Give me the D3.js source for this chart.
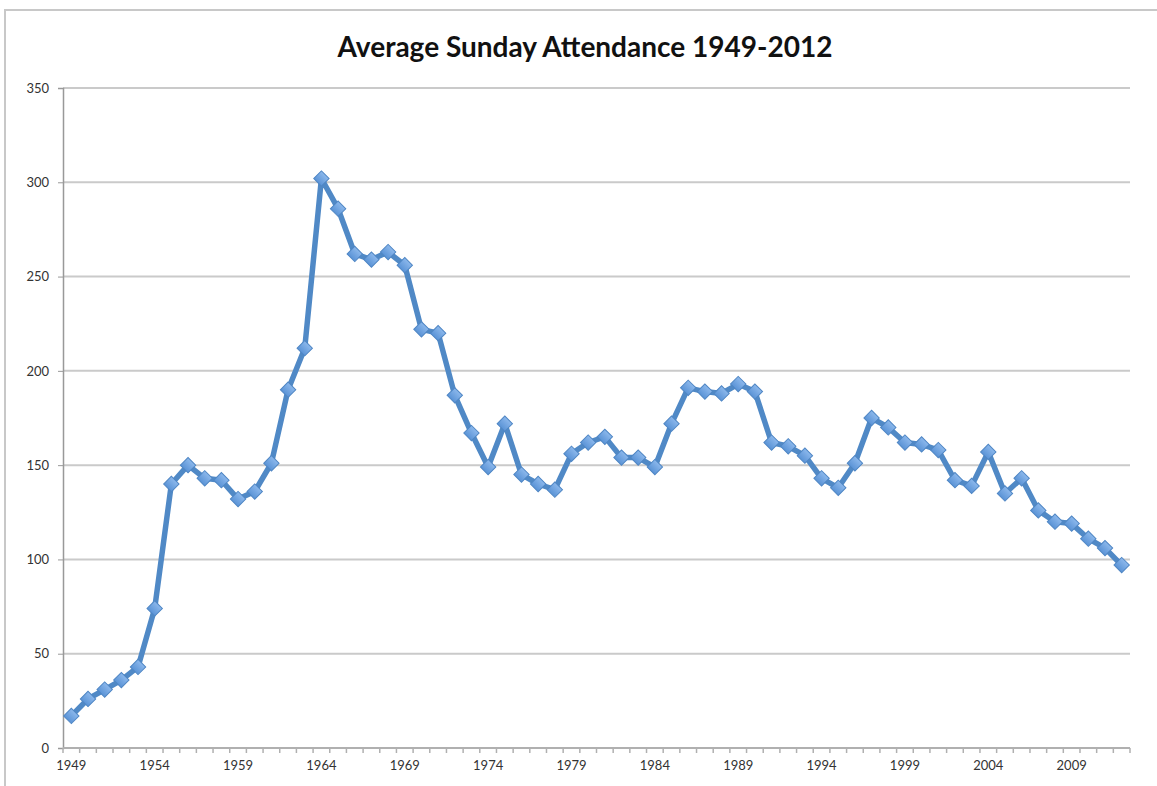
<!DOCTYPE html>
<html>
<head>
<meta charset="utf-8">
<script src="https://cdn.jsdelivr.net/npm/d3@7"></script>
<style>
body { margin:0; background:#fff; }
svg text { font-family: "Lato", "Open Sans", sans-serif; }
</style>
</head>
<body>
<div id="chart"></div>
<script>
(function(){
var width = 1157,
	height = 786,
	margin = {top:88, bottom:38, left:63, right:27};

var title = "Average Sunday Attendance 1949-2012";

var years = d3.range(1949, 2013);

var attendance = [
	17, 26, 31, 36, 43, 74, 140, 150, 143, 142,
	132, 136, 151, 190, 212, 302, 286, 262, 259, 263,
	256, 222, 220, 187, 167, 149, 172, 145, 140, 137,
	156, 162, 165, 154, 154, 149, 172, 191, 189, 188,
	193, 189, 162, 160, 155, 143, 138, 151, 175, 170,
	162, 161, 158, 142, 139, 157, 135, 143, 126, 120,
	119, 111, 106, 97
];

var yTicks = [0, 50, 100, 150, 200, 250, 300, 350];

var svg = d3.select("#chart").append("svg")
	.attr("width", width)
	.attr("height", height);

// chart frame
svg.append("rect")
	.attr("x", 5).attr("y", 10)
	.attr("width", width + 10).attr("height", height + 10)
	.attr("fill", "none")
	.attr("stroke", "#c8c8c8")
	.attr("stroke-width", 2);

svg.append("text")
	.attr("x", 585).attr("y", 57)
	.attr("text-anchor", "middle")
	.attr("font-size", 28)
	.attr("font-weight", "bold")
	.attr("fill", "#111")
	.text(title);

var X = d3.scaleBand().domain(years).range([margin.left, width - margin.right]);
var Y = d3.scaleLinear().domain([0, 350]).range([height - margin.bottom, margin.top]);

// grid lines
svg.append("g").selectAll("line").data(yTicks.filter(function(d){return d > 0;})).enter().append("line")
	.attr("x1", margin.left).attr("x2", width - margin.right)
	.attr("y1", function(d){return Y(d);}).attr("y2", function(d){return Y(d);})
	.attr("stroke", "#cacaca")
	.attr("stroke-width", 2);

// y axis
var yAxis = svg.append("g")
	.attr("transform", "translate(" + margin.left + ",0)")
	.call(d3.axisLeft(Y).tickValues(yTicks).tickSize(5).tickPadding(9));
yAxis.select(".domain").attr("stroke", "#999").attr("stroke-width", 1.5);
yAxis.selectAll(".tick line").attr("stroke", "#999");
yAxis.selectAll("text").attr("font-size", 13).attr("fill", "#333")
	.style("font-family", "Lato, sans-serif");

// x axis with ticks between categories
var xg = svg.append("g").attr("transform", "translate(0," + Y(0) + ")");
xg.append("line")
	.attr("x1", margin.left).attr("x2", width - margin.right)
	.attr("stroke", "#b0b0b0").attr("stroke-width", 2);
xg.selectAll(".xt").data(years.concat([2013])).enter().append("line")
	.attr("class", "xt")
	.attr("x1", function(d){ return d == 2013 ? X.range()[1] : X(d); })
	.attr("x2", function(d){ return d == 2013 ? X.range()[1] : X(d); })
	.attr("y1", 0).attr("y2", 5)
	.attr("stroke", "#b0b0b0").attr("stroke-width", 1.5);
xg.selectAll(".xl").data(years.filter(function(d){return (d - 1949) % 5 == 0;})).enter().append("text")
	.attr("class", "xl")
	.attr("x", function(d){ return X(d) + X.bandwidth()/2; })
	.attr("y", 22)
	.attr("text-anchor", "middle")
	.attr("font-size", 13)
	.attr("fill", "#333")
	.text(function(d){ return d; });

var points = years.map(function(y, i){ return {year:y, value:attendance[i]}; });

var line = d3.line()
	.x(function(d){ return X(d.year) + X.bandwidth()/2; })
	.y(function(d){ return Y(d.value); });

svg.append("path")
	.datum(points)
	.attr("d", line)
	.attr("fill", "none")
	.attr("stroke", "#5089c6")
	.attr("stroke-width", 5.5)
	.attr("stroke-linejoin", "round");

var defs = svg.append("defs");
var grad = defs.append("linearGradient").attr("id", "mk")
	.attr("x1", "0").attr("y1", "0").attr("x2", "0").attr("y2", "1");
grad.append("stop").attr("offset", "0%").attr("stop-color", "#8cb8ec");
grad.append("stop").attr("offset", "100%").attr("stop-color", "#5a93d6");

svg.append("g").selectAll("path").data(points).enter().append("path")
	.attr("d", d3.symbol().type(d3.symbolSquare).size(118))
	.attr("transform", function(d){ return "translate(" + (X(d.year) + X.bandwidth()/2) + "," + Y(d.value) + ") rotate(45)"; })
	.attr("fill", "url(#mk)")
	.attr("stroke", "#4f86c4")
	.attr("stroke-width", 1);
})();
</script>
</body>
</html>
